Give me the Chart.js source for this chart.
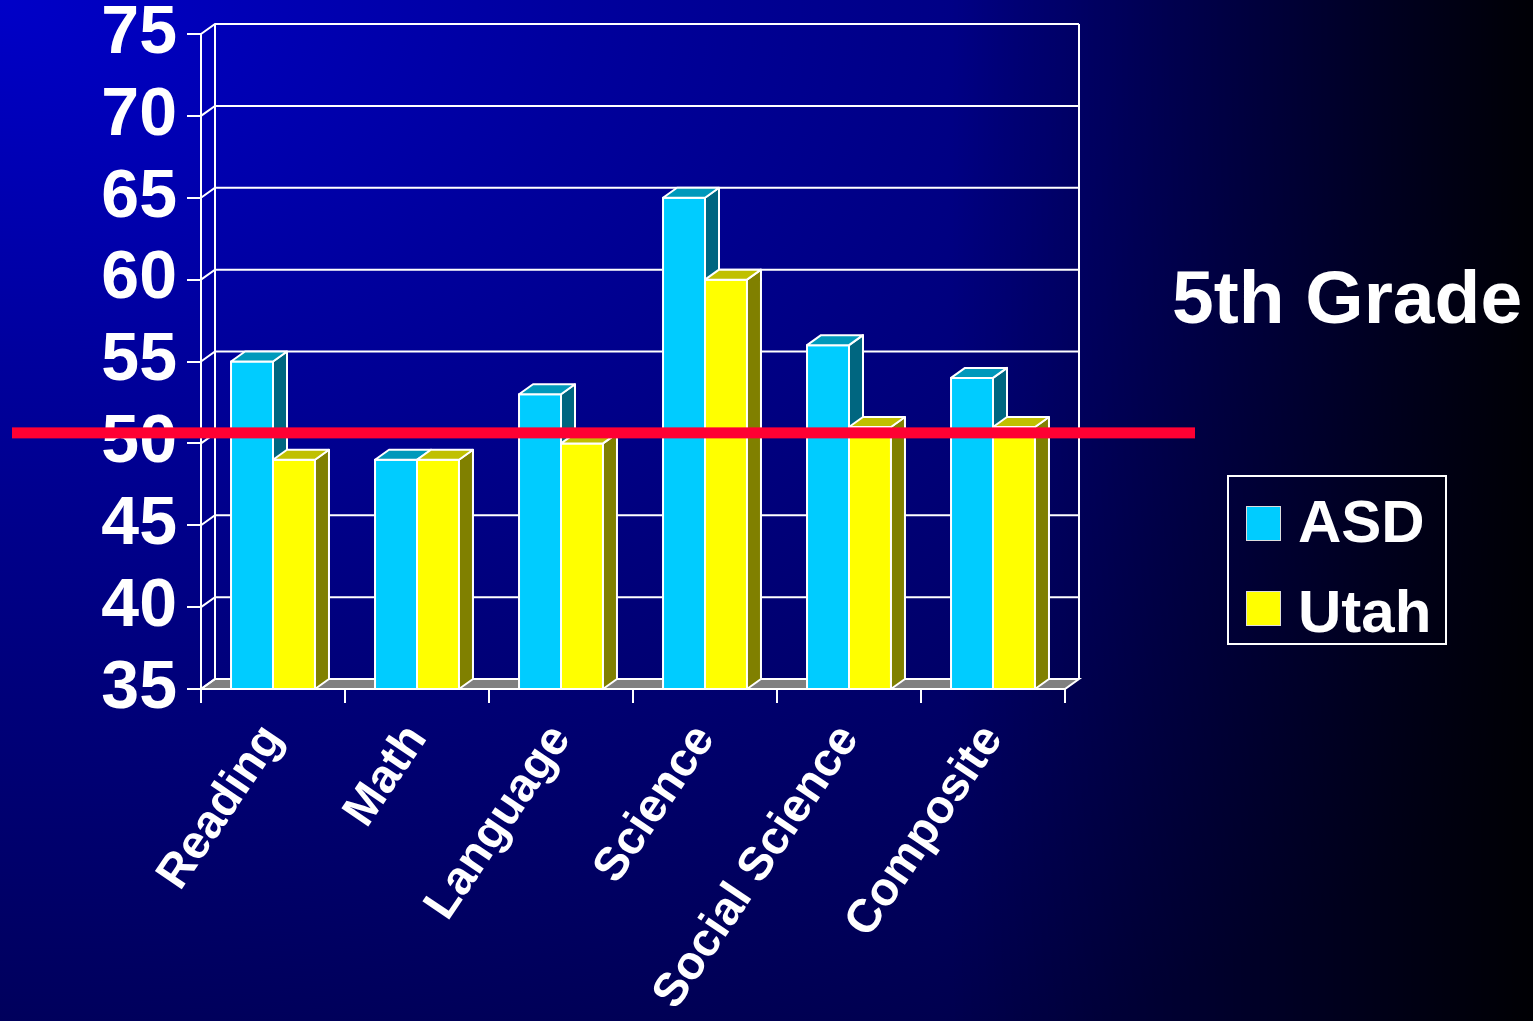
<!DOCTYPE html>
<html>
<head>
<meta charset="utf-8">
<title>5th Grade</title>
<script src="https://cdn.jsdelivr.net/npm/chart.js@4.4.1/dist/chart.umd.min.js"></script>
<style>
html, body { margin: 0; padding: 0; }
body {
  width: 1533px; height: 1021px; overflow: hidden; position: relative;
  font-family: "Liberation Sans", Arial, sans-serif;
  background:
    linear-gradient(to right, rgba(0,0,0,0) 0%, rgba(0,0,0,0) 62%, rgba(0,0,0,0.55) 85%, rgba(0,0,0,0.95) 100%),
    radial-gradient(ellipse 130% 120% at 0% 0%, #0000c8 0%, #00009c 30%, #00007c 55%, #000060 80%, #00004a 100%);
}
#chart { position: absolute; left: 0; top: 0; }
#title {
  position: absolute; left: 1172px; top: 260px;
  color: #fff; font-weight: bold; font-size: 75px; line-height: 1; white-space: nowrap;
}
#legend {
  position: absolute; left: 1227px; top: 475px; width: 216px; height: 166px;
  border: 2px solid #fff;
}
#legend .sw { position: absolute; left: 17px; width: 33px; height: 33px; border: 1px solid #ddd; }
#legend .tx { position: absolute; left: 69px; color: #fff; font-weight: bold; font-size: 60px; line-height: 1; }
</style>
</head>
<body>
<canvas id="chart" width="1533" height="1021"></canvas>
<div id="title">5th Grade</div>
<div id="legend"></div>
<script>
// data
var categories = ['Reading', 'Math', 'Language', 'Science', 'Social Science', 'Composite'];
var asd = [55, 49, 53, 65, 56, 54];
var utah = [49, 49, 50, 60, 51, 51];
var seriesNames = ['ASD', 'Utah'];
var yTicks = [35, 40, 45, 50, 55, 60, 65, 70, 75];
var refLine = [50];

var faces = [
  {front: '#00ccff', side: '#006680', top: '#0099bb'},
  {front: '#ffff00', side: '#808000', top: '#c0c000'}
];
var depth = {dx: 14, dy: -10};

Chart.defaults.color = '#fff';
Chart.defaults.font.family = '"Liberation Sans", Arial, sans-serif';
Chart.defaults.font.weight = 'bold';

function poly(ctx, pts, fill) {
  ctx.beginPath();
  ctx.moveTo(pts[0][0], pts[0][1]);
  for (var i = 1; i < pts.length; i++) ctx.lineTo(pts[i][0], pts[i][1]);
  ctx.closePath();
  if (fill) { ctx.fillStyle = fill; ctx.fill(); }
  ctx.stroke();
}

var wall3d = {
  id: 'wall3d',
  beforeDatasetsDraw: function(chart) {
    var ctx = chart.ctx, a = chart.chartArea, y = chart.scales.y;
    ctx.save();
    ctx.lineWidth = 2;
    ctx.strokeStyle = '#fff';
    // floor
    poly(ctx, [[a.left, a.bottom], [a.left + depth.dx, a.bottom + depth.dy],
      [a.right + depth.dx, a.bottom + depth.dy], [a.right, a.bottom]], '#808080');
    // grid on side and back wall
    y.ticks.forEach(function(t) {
      var py = y.getPixelForValue(t.value);
      ctx.beginPath();
      ctx.moveTo(a.left, py);
      ctx.lineTo(a.left + depth.dx, py + depth.dy);
      ctx.lineTo(a.right + depth.dx, py + depth.dy);
      ctx.stroke();
    });
    ctx.beginPath();
    ctx.moveTo(a.left + depth.dx, a.top + depth.dy);
    ctx.lineTo(a.left + depth.dx, a.bottom + depth.dy);
    ctx.moveTo(a.right + depth.dx, a.top + depth.dy);
    ctx.lineTo(a.right + depth.dx, a.bottom + depth.dy);
    ctx.stroke();
    ctx.restore();
  },
  afterDatasetsDraw: function(chart) {
    var ctx = chart.ctx, a = chart.chartArea;
    var metas = chart.getSortedVisibleDatasetMetas().slice().sort(function(p, q) { return p.index - q.index; });
    ctx.save();
    ctx.lineWidth = 2;
    ctx.strokeStyle = '#fff';
    ctx.lineJoin = 'round';
    for (var i = 0; i < chart.data.labels.length; i++) {
      metas.forEach(function(m) {
        var p = m.data[i].getProps(['x', 'y', 'width', 'base'], true);
        var l = p.x - p.width / 2, r = p.x + p.width / 2;
        var b = Math.min(p.base, a.bottom);
        var f = faces[m.index];
        poly(ctx, [[l, p.y], [r, p.y], [r, b], [l, b]], f.front);
        poly(ctx, [[r, p.y], [r + depth.dx, p.y + depth.dy], [r + depth.dx, b + depth.dy], [r, b]], f.side);
        poly(ctx, [[l, p.y], [l + depth.dx, p.y + depth.dy], [r + depth.dx, p.y + depth.dy], [r, p.y]], f.top);
      });
    }
    ctx.restore();
  },
  afterDraw: function(chart) {
    var ctx = chart.ctx, y = chart.scales.y;
    ctx.save();
    ctx.fillStyle = '#ff0033';
    refLine.forEach(function(v) {
      var py = y.getPixelForValue(v) + depth.dy;
      ctx.fillRect(12, py - 6, 1183, 11);
    });
    ctx.restore();
  }
};

var chart = new Chart(document.getElementById('chart'), {
  type: 'bar',
  data: {
    labels: categories,
    datasets: [
      {label: seriesNames[0], data: asd, backgroundColor: faces[0].front},
      {label: seriesNames[1], data: utah, backgroundColor: faces[1].front}
    ]
  },
  options: {
    responsive: false,
    animation: false,
    devicePixelRatio: 1,
    layout: {padding: {top: 34, right: 468, left: 0, bottom: 0}},
    datasets: {
      bar: {
        borderColor: '#fff',
        borderWidth: 2,
        borderSkipped: false,
        barPercentage: 1,
        categoryPercentage: 0.583
      }
    },
    plugins: {
      legend: {display: false},
      tooltip: {enabled: false}
    },
    scales: {
      x: {
        grid: {display: true, drawOnChartArea: false, drawTicks: true, tickLength: 14, color: '#fff', lineWidth: 2, offset: true},
        border: {display: true, color: '#fff', width: 2},
        ticks: {
          autoSkip: false, minRotation: 56, maxRotation: 56, padding: 12,
          color: '#fff', font: {size: 47, weight: 'bold'}
        },
        afterFit: function(s) { s.height = 1021 - 689; s.paddingLeft = 0; s.paddingRight = 0; }
      },
      y: {
        min: yTicks[0], max: yTicks[yTicks.length - 1],
        grid: {display: true, drawOnChartArea: false, drawTicks: true, tickLength: 14, color: '#fff', lineWidth: 2},
        border: {display: true, color: '#fff', width: 2},
        ticks: {
          stepSize: yTicks[1] - yTicks[0], padding: 10,
          color: '#fff', font: {size: 68, weight: 'bold', lineHeight: 1}
        },
        afterFit: function(s) { s.width = 201; s.paddingTop = 0; s.paddingBottom = 0; }
      }
    }
  },
  plugins: [wall3d]
});

// legend built from the datasets
var lg = document.getElementById('legend');
chart.data.datasets.forEach(function(ds, k) {
  var sw = document.createElement('div');
  sw.className = 'sw';
  sw.style.top = (29 + k * 85) + 'px';
  sw.style.background = ds.backgroundColor;
  var tx = document.createElement('div');
  tx.className = 'tx';
  tx.style.top = (15 + k * 90) + 'px';
  tx.textContent = ds.label;
  lg.appendChild(sw);
  lg.appendChild(tx);
});
</script>
</body>
</html>
